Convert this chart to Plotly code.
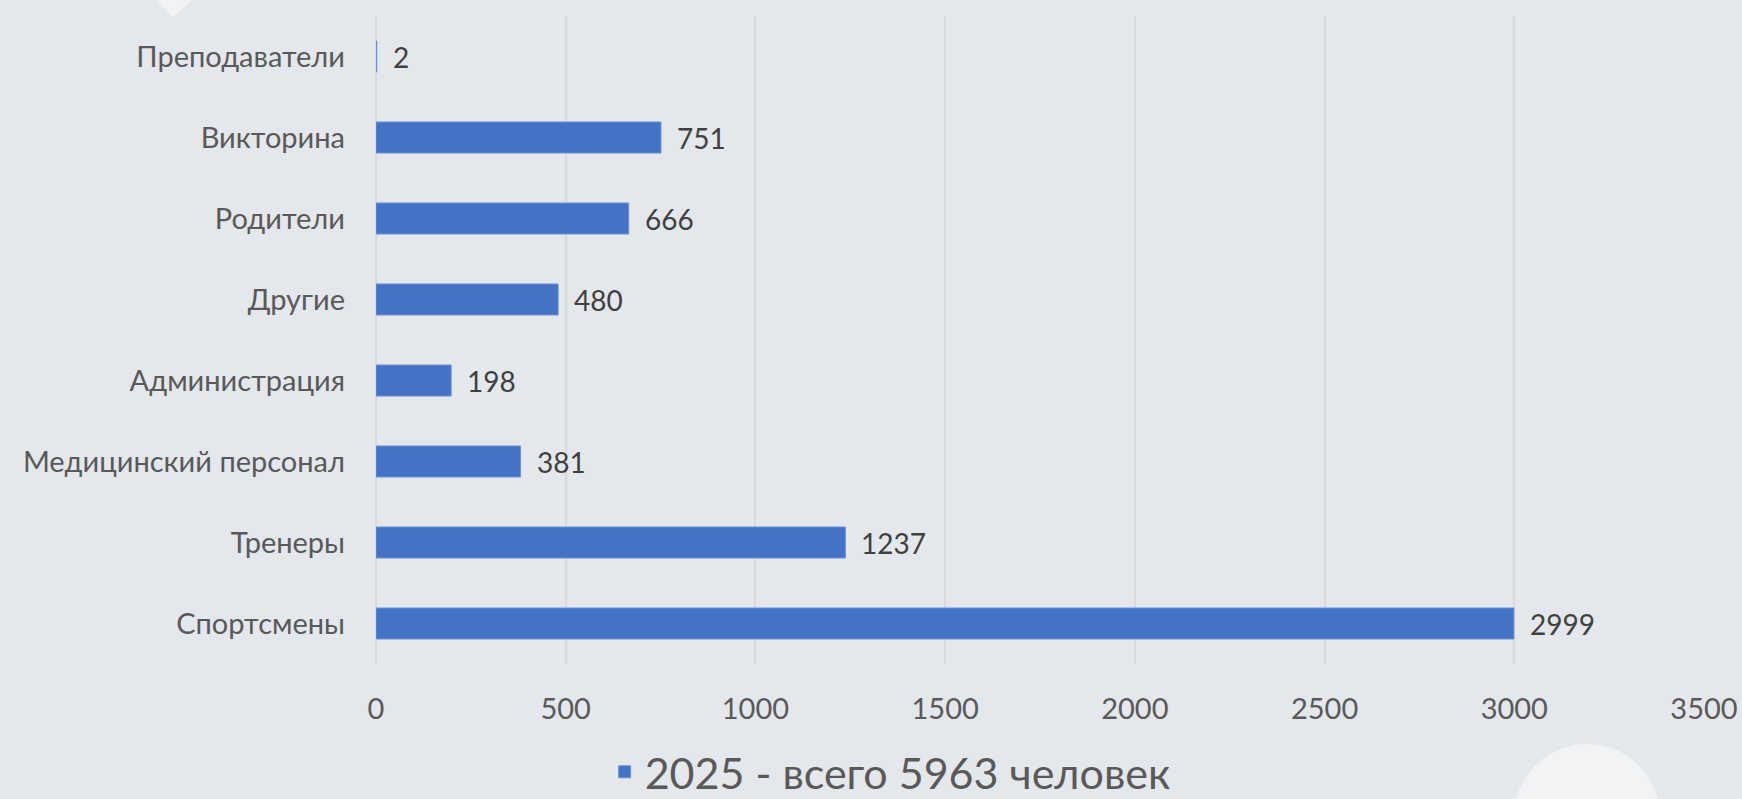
import plotly.graph_objects as go

# ---- data ----
categories = ["Спортсмены", "Тренеры", "Медицинский персонал", "Администрация",
              "Другие", "Родители", "Викторина", "Преподаватели"]
values = [2999, 1237, 381, 198, 480, 666, 751, 2]
x_ticks = [0, 500, 1000, 1500, 2000, 2500, 3000, 3500]
series_name = "2025 - всего 5963 человек"

# ---- styling ----
BG = "#E4E7EC"
DECOR = "#F2F3F5"
BAR = "#4472C4"
GRID = "#D9D9D9"
LABEL = "#595959"
VALUE = "#404040"
FONT = "Lato, 'Open Sans', 'DejaVu Sans', sans-serif"

W, H = 1742, 799
L, R, T, B = 376, 38, 16, 135

fig = go.Figure()
fig.add_trace(go.Bar(
    y=categories, x=values, orientation="h", name=series_name,
    marker=dict(color=BAR, line=dict(color="#6C92D6", width=1)),
    hoverinfo="x+y",
))

annotations = [
    dict(x=v, y=c, xref="x", yref="y", text=str(v), showarrow=False,
         xanchor="left", yanchor="middle", xshift=14,
         font=dict(family=FONT, size=28, color=VALUE))
    for c, v in zip(categories, values)
]

# decorative slide shapes (background only)
def px2paper_x(px):
    return (px - L) / (W - L - R)

def px2paper_y(py):
    return (H - B - py) / (H - T - B)

tri = "M {:.5f} {:.5f} L {:.5f} {:.5f} L {:.5f} {:.5f} Z".format(
    px2paper_x(156), px2paper_y(0), px2paper_x(192), px2paper_y(0),
    px2paper_x(173), px2paper_y(17))
shapes = [
    dict(type="path", xref="paper", yref="paper", path=tri,
         fillcolor=DECOR, line=dict(width=0), layer="below"),
    dict(type="circle", xref="paper", yref="paper",
         x0=px2paper_x(1514), x1=px2paper_x(1660),
         y0=px2paper_y(890), y1=px2paper_y(744),
         fillcolor=DECOR, line=dict(width=0), layer="below"),
]

fig.update_layout(
    width=W, height=H,
    margin=dict(l=L, r=R, t=T, b=B, autoexpand=False),
    paper_bgcolor=BG, plot_bgcolor=BG,
    font=dict(family=FONT, size=29, color=LABEL),
    bargap=0.617,
    showlegend=True,
    legend=dict(orientation="h", xref="container", yref="container",
                x=0.511, xanchor="center", y=0.034, yanchor="middle",
                font=dict(family=FONT, size=43, color=LABEL),
                bgcolor="rgba(0,0,0,0)", itemwidth=30),
    xaxis=dict(range=[0, 3500], tickmode="array", tickvals=x_ticks,
               ticktext=[str(t) for t in x_ticks],
               showgrid=True, gridcolor=GRID, gridwidth=1.5,
               zeroline=True, zerolinecolor=GRID, zerolinewidth=1.5,
               showline=False, ticks="", ticklabelstandoff=25,
               tickfont=dict(family=FONT, size=29, color=LABEL)),
    yaxis=dict(type="category", categoryorder="array", categoryarray=categories,
               range=[-0.5, len(categories) - 0.5],
               showgrid=False, zeroline=False, showline=False, ticks="",
               ticklabelstandoff=30,
               tickfont=dict(family=FONT, size=29, color=LABEL)),
    annotations=annotations,
    shapes=shapes,
)

fig.write_html(
    "out.html",
    config={"displayModeBar": False},
    post_script="document.body.style.margin='0';document.body.style.overflow='hidden';",
)
